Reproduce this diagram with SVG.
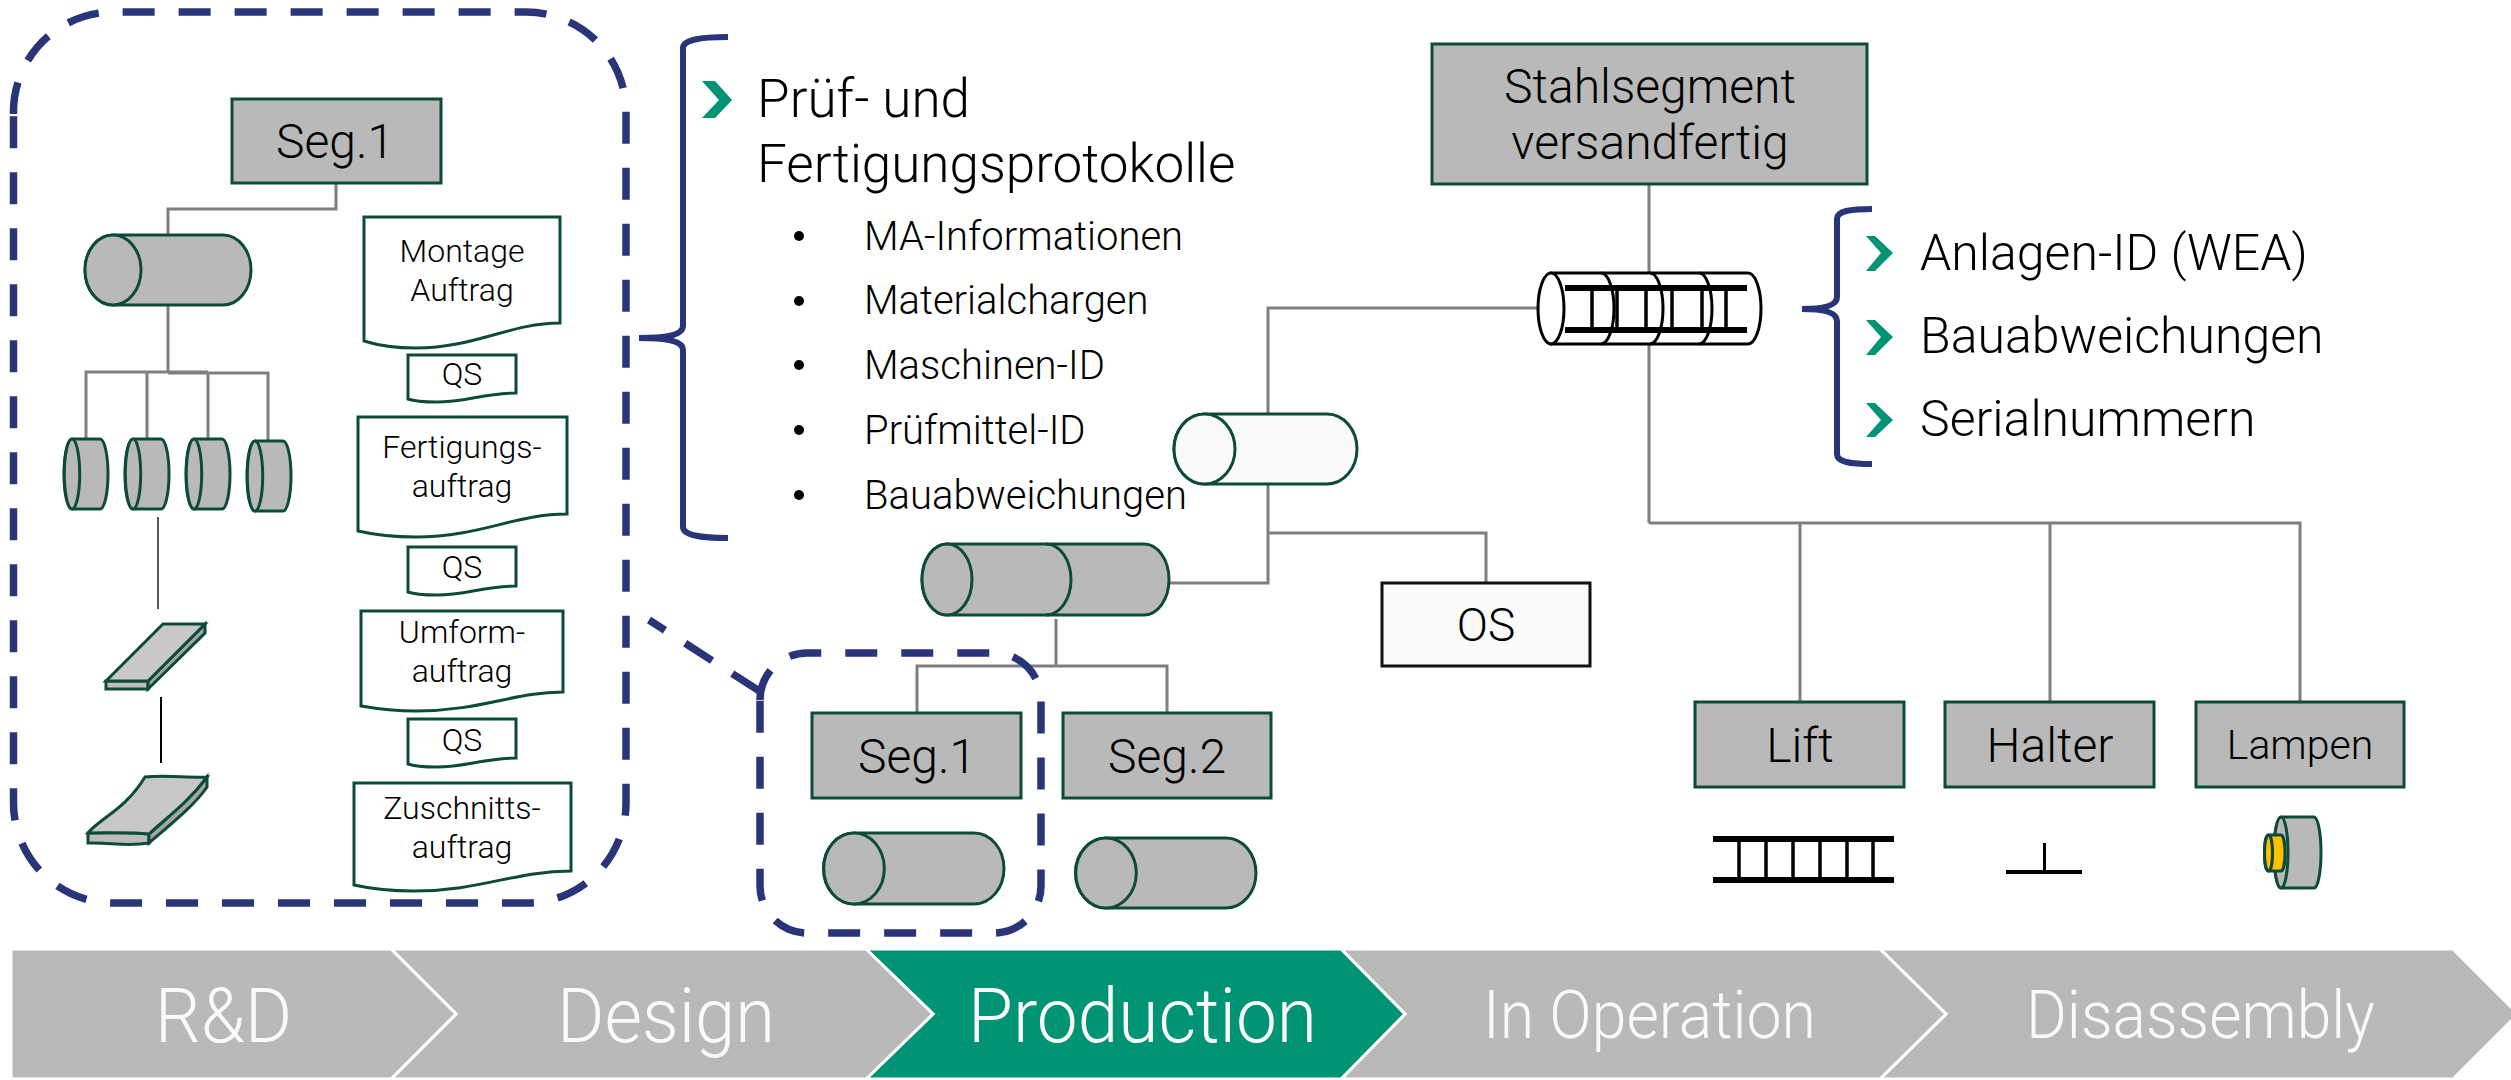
<svg xmlns="http://www.w3.org/2000/svg" width="2511" height="1080" viewBox="0 0 2511 1080">
<style>
text{font-family:Roboto,"Liberation Sans",sans-serif;font-weight:300;fill:#000}
.m{text-anchor:middle}
.box{fill:#B9B9B9;stroke:#0D4A3A;stroke-width:3}
.cyl{fill:#B9B9B9;stroke:#0D4A3A;stroke-width:3}
.cap{fill:#B9B9B9;stroke:#0D4A3A;stroke-width:3}
.doc{fill:#fff;stroke:#0D4A3A;stroke-width:3}
.conn{fill:none;stroke:#7F7F7F;stroke-width:3}
.navy{fill:none;stroke:#2A3479;stroke-width:7.5}
.brace{fill:none;stroke:#2A3479;stroke-width:6}
.dash{stroke-dasharray:32 24}
.chev{fill:#009374}
.step{fill:#B9B9B9;stroke:#fff;stroke-width:3}
.lab{fill:#FAFAFA;font-size:76px}
.lab2{fill:#FAFAFA;font-size:66px}
.t48{font-size:48px}
.t50{font-size:50px}
.t32{font-size:32px}
.t40{font-size:40px}
.t53{font-size:53px}
.blk{fill:#000}
.lad{fill:#fff;stroke:#000;stroke-width:3}
</style>

<g id="lifecycle">
<polygon class="step" points="2453,949 2518,1014 2453,1079 1880,1079 1946,1014 1880,949"/>
<polygon class="step" points="1880,949 1946,1014 1880,1079 1341,1079 1405,1014 1341,949"/>
<polygon class="step" style="fill:#009374" points="1341,949 1405,1014 1341,1079 866,1079 933,1014 866,949"/>
<polygon class="step" points="866,949 933,1014 866,1079 391,1079 456,1014 391,949"/>
<polygon class="step" points="11,949 391,949 456,1014 391,1079 11,1079"/>
<text class="lab" x="155" y="1042" textLength="137" lengthAdjust="spacingAndGlyphs">R&amp;D</text>
<text class="lab" x="557" y="1042" textLength="218" lengthAdjust="spacingAndGlyphs">Design</text>
<text class="lab" x="968" y="1042" textLength="349" lengthAdjust="spacingAndGlyphs">Production</text>
<text class="lab2" x="1483" y="1038" textLength="333" lengthAdjust="spacingAndGlyphs">In Operation</text>
<text class="lab2" x="2026" y="1038" textLength="349" lengthAdjust="spacingAndGlyphs">Disassembly</text>
</g>

<g id="connectors">
<path class="conn" d="M336,183V209H168V235"/>
<path class="conn" d="M168,305V373M86,439V372H208M147,439V372M208,439V372M168,373H268V441"/>
<path d="M158,517V609" fill="none" stroke="#595959" stroke-width="2"/>
<path d="M161,697V763" fill="none" stroke="#000" stroke-width="2"/>
<path class="conn" d="M1649,184V523M1538,308H1268V583H1169M1268,533H1486V583M1056,619V666M917,713V666H1167V713M1649,523H2300V702M1800,523V702M2050,523V702"/>
</g>

<g id="dashed-callout">
<path class="navy dash" d="M13.5,114A100,100 0 0 1 113.5,12H526A100,100 0 0 1 626,112V803A100,100 0 0 1 526,903H113.5A100,100 0 0 1 13.5,803Z"/>
<path class="navy dash" d="M760,700A47,47 0 0 1 807,653H994A47,47 0 0 1 1041,700V886A47,47 0 0 1 994,933H807A47,47 0 0 1 760,886Z"/>
<path class="navy dash" style="stroke-dashoffset:13" d="M649,620L761,692"/>
<path class="brace" d="M728,37C700,37 683,40 683,48V326C683,334 670,338 639,338C670,338 683,342 683,350V527C683,535 700,538 728,538"/>
<path class="brace" d="M1872,209C1850,209 1837,211 1837,219V297C1837,305 1825,309 1802,309C1825,309 1837,313 1837,321V454C1837,462 1850,464 1872,464"/>
</g>

<g id="seg1-top"><rect class="box" x="232" y="99" width="209" height="84"/><text class="m t48" x="335" y="158">Seg.1</text></g>
<g id="cyl-main"><path class="cyl" d="M113,235H223A28,35 0 0 1 223,305H113A28,35 0 0 1 113,235Z"/><ellipse class="cap" cx="113" cy="270" rx="28" ry="35"/></g>
<g id="ring1"><path class="cyl" d="M72,439H100A8,35 0 0 1 100,509H72A8,35 0 0 1 72,439Z"/><ellipse class="cap" cx="72" cy="474" rx="7.7" ry="35"/></g>
<g id="ring2"><path class="cyl" d="M133,439H161A8,35 0 0 1 161,509H133A8,35 0 0 1 133,439Z"/><ellipse class="cap" cx="133" cy="474" rx="7.7" ry="35"/></g>
<g id="ring3"><path class="cyl" d="M194,439H222A8,35 0 0 1 222,509H194A8,35 0 0 1 194,439Z"/><ellipse class="cap" cx="194" cy="474" rx="7.7" ry="35"/></g>
<g id="ring4"><path class="cyl" d="M255,441H283A8,35 0 0 1 283,511H255A8,35 0 0 1 255,441Z"/><ellipse class="cap" cx="255" cy="476" rx="7.7" ry="35"/></g>
<g id="plate-flat">
<polygon points="106,681 148,681 148,689 106,689" fill="#BDBDBD" stroke="#0D4A3A" stroke-width="3"/>
<polygon points="205,624 205,633 148,689 148,681" fill="#A5A5A5" stroke="#0D4A3A" stroke-width="3"/>
<polygon points="163,624 205,624 148,681 106,681" fill="#C8C8C8" stroke="#0D4A3A" stroke-width="3"/>
</g>
<g id="plate-bent">
<path d="M88,833C110,833 130,832 149,834V843C125,847 110,842 88,843Z" fill="#BDBDBD" stroke="#0D4A3A" stroke-width="3"/>
<path d="M207,777V787C195,805 170,825 149,843V834C170,815 190,800 207,777Z" fill="#A5A5A5" stroke="#0D4A3A" stroke-width="3"/>
<path d="M145,777C165,775 190,778 207,777C190,800 170,815 149,834C130,832 110,833 88,833C100,818 125,810 145,777Z" fill="#C8C8C8" stroke="#0D4A3A" stroke-width="3"/>
</g>

<g id="doc-montage"><path class="doc" d="M364,217H560V323C510,323 475,348 416,348C395,348 380,346 364,341Z"/><text class="m t32" x="462" y="262">Montage</text><text class="m t32" x="462" y="301">Auftrag</text></g>
<g id="qs1"><path class="doc" d="M408,355H516V393C485,393 465,402 437,402C425,402 416,402 408,399Z"/><text class="m t32" x="462" y="385">QS</text></g>
<g id="doc-fertigung"><path class="doc" d="M358,417H567V514C515,514 480,537 416,537C395,537 375,535 358,531Z"/><text class="m t32" x="462" y="458">Fertigungs-</text><text class="m t32" x="462" y="497">auftrag</text></g>
<g id="qs2"><path class="doc" d="M408,547H516V586C485,586 465,595 437,595C425,595 416,595 408,592Z"/><text class="m t32" x="462" y="578">QS</text></g>
<g id="doc-umform"><path class="doc" d="M361,611H563V692C515,692 480,711 416,711C395,711 378,709 361,706Z"/><text class="m t32" x="462" y="643">Umform-</text><text class="m t32" x="462" y="682">auftrag</text></g>
<g id="qs3"><path class="doc" d="M408,719H516V758C485,758 465,767 437,767C425,767 416,767 408,764Z"/><text class="m t32" x="462" y="751">QS</text></g>
<g id="doc-zuschnitt"><path class="doc" d="M354,783H571V871C515,871 480,891 414,891C390,891 372,889 354,885Z"/><text class="m t32" x="462" y="819">Zuschnitts-</text><text class="m t32" x="462" y="858">auftrag</text></g>

<g id="protokolle">
<polygon class="chev" points="702,81 715,81 732,100 715,118 702,118 719,100"/>
<text class="t53" x="757" y="117">Prüf- und</text>
<text class="t53" x="757" y="182">Fertigungsprotokolle</text>
<circle class="blk" cx="799" cy="236" r="5"/><text class="t40" x="864" y="250">MA-Informationen</text>
<circle class="blk" cx="799" cy="301" r="5"/><text class="t40" x="864" y="314">Materialchargen</text>
<circle class="blk" cx="799" cy="365" r="5"/><text class="t40" x="864" y="379">Maschinen-ID</text>
<circle class="blk" cx="799" cy="430" r="5"/><text class="t40" x="864" y="444">Prüfmittel-ID</text>
<circle class="blk" cx="799" cy="495" r="5"/><text class="t40" x="864" y="509">Bauabweichungen</text>
</g>

<g id="stahlsegment"><rect class="box" x="1432" y="44" width="435" height="140"/><text class="m t48" x="1650" y="103">Stahlsegment</text><text class="m t48" x="1650" y="159">versandfertig</text></g>

<g id="ladder-cyl">
<path class="lad" d="M1551,273H1748A13,35.500 0 0 1 1748,344H1551Z"/>
<ellipse class="lad" cx="1551" cy="308.500" rx="13" ry="35.500"/>
<path class="lad" style="fill:none" d="M1601,273A13,35.500 0 0 1 1601,344M1650,273A13,35.500 0 0 1 1650,344M1699,273A13,35.500 0 0 1 1699,344"/>
<rect x="1565" y="285" width="182" height="6"/><rect x="1565" y="327" width="182" height="6"/>
<path d="M1592,288V330M1617,288V330M1646,288V330M1672,288V330M1702,288V330M1726,288V330" stroke="#000" stroke-width="3.500" fill="none"/>
</g>

<g id="anlagen">
<polygon class="chev" points="1866,236 1875,236 1893,253 1875,271 1866,271 1881,253"/><text class="t50" x="1920" y="270">Anlagen-ID (WEA)</text>
<polygon class="chev" points="1866,320 1875,320 1893,337 1875,355 1866,355 1881,337"/><text class="t50" x="1920" y="353">Bauabweichungen</text>
<polygon class="chev" points="1866,403 1875,403 1893,420 1875,437 1866,437 1881,420"/><text class="t50" x="1920" y="436">Serialnummern</text>
</g>

<g id="cyl-white"><path class="cyl" style="fill:#FAFAFA" d="M1204.500,414H1327A30,35 0 0 1 1327,484H1204.500A30.500,35 0 0 1 1204.500,414Z"/><ellipse class="cap" style="fill:#FAFAFA" cx="1204.500" cy="449" rx="30.500" ry="35"/></g>
<g id="cyl-double">
<path class="cyl" d="M947,544H1144A25,35.500 0 0 1 1144,615H947A25,35.500 0 0 1 947,544Z"/>
<ellipse class="cap" cx="947" cy="579.500" rx="25" ry="35.500"/>
<path d="M1046,544A25,35.500 0 0 1 1046,615" fill="none" stroke="#0D4A3A" stroke-width="3"/>
</g>
<g id="os"><rect x="1382" y="583" width="208" height="83" fill="#FAFAFA" stroke="#111" stroke-width="3"/><text class="m" font-size="46" x="1486" y="641">OS</text></g>

<g id="seg1"><rect class="box" x="812" y="713" width="209" height="85"/><text class="m t48" x="917" y="773">Seg.1</text></g>
<g id="seg2"><rect class="box" x="1063" y="713" width="208" height="85"/><text class="m t48" x="1167" y="773">Seg.2</text></g>
<g id="cyl-seg1"><path class="cyl" d="M854,833H974A30,35.500 0 0 1 974,904H854A30.500,35.500 0 0 1 854,833Z"/><ellipse class="cap" cx="854" cy="868.500" rx="30.300" ry="35.500"/></g>
<g id="cyl-seg2"><path class="cyl" d="M1106,838H1226A30,35 0 0 1 1226,908H1106A30.500,35 0 0 1 1106,838Z"/><ellipse class="cap" cx="1106" cy="873" rx="30.300" ry="35"/></g>

<g id="lift"><rect class="box" x="1695" y="702" width="209" height="85"/><text class="m t48" x="1800" y="762">Lift</text></g>
<g id="halter"><rect class="box" x="1945" y="702" width="209" height="85"/><text class="m t48" x="2050" y="762">Halter</text></g>
<g id="lampen"><rect class="box" x="2196" y="702" width="208" height="85"/><text class="m" font-size="41" x="2300" y="759">Lampen</text></g>

<g id="ladder">
<rect x="1713" y="836" width="181" height="6"/><rect x="1713" y="877" width="181" height="6"/>
<path d="M1739,839V880M1766,839V880M1793,839V880M1820,839V880M1847,839V880M1873,839V880" stroke="#000" stroke-width="3.500" fill="none"/>
</g>
<g id="holder"><rect x="2006" y="870" width="76" height="4"/><path d="M2044.500,843V874" stroke="#000" stroke-width="3" fill="none"/></g>
<g id="lamp">
<path class="cyl" d="M2281,817H2314A7,35.500 0 0 1 2314,888H2281A7,35.500 0 0 1 2281,817Z"/>
<ellipse class="cap" cx="2281" cy="852.500" rx="7" ry="35.500"/>
<path d="M2268.500,835H2281A4,18 0 0 1 2281,871H2268.500A4,18 0 0 1 2268.500,835Z" fill="#FFC000" stroke="#0D4A3A" stroke-width="3"/>
<ellipse cx="2268.500" cy="853" rx="4" ry="18" fill="#FFC000" stroke="#0D4A3A" stroke-width="3"/>
</g>
</svg>
